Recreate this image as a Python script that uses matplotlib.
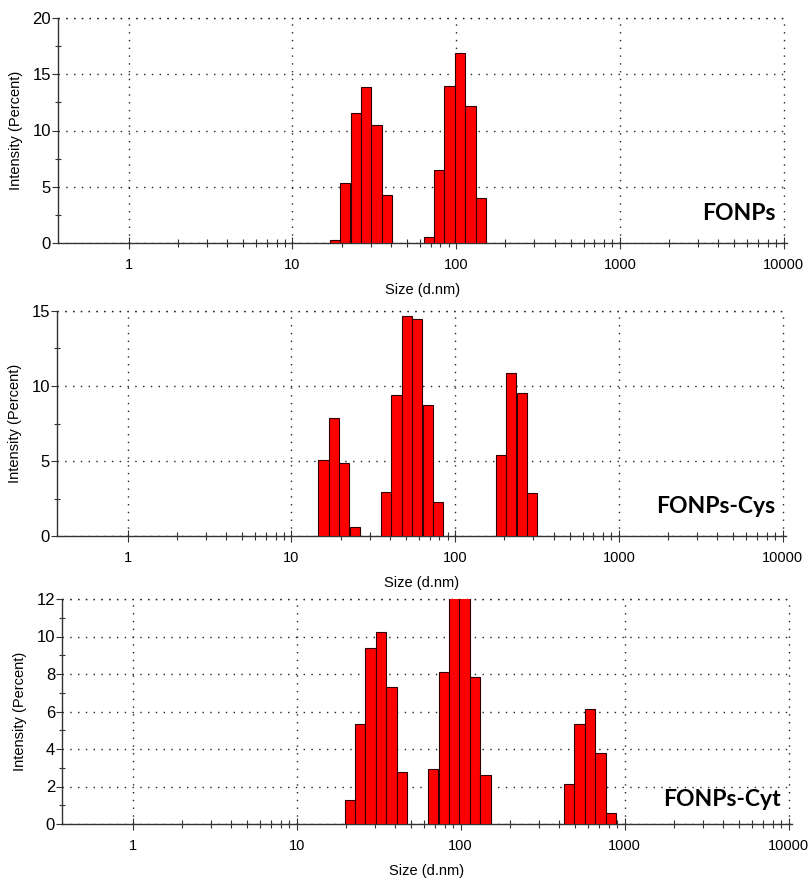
import numpy as np
import matplotlib
matplotlib.use('Agg')
import matplotlib.pyplot as plt
import matplotlib.ticker as mtick

plt.rcParams.update({'font.family': ['Liberation Sans', 'DejaVu Sans'], 'font.size': 10})

# Malvern size classes (d.nm) holding intensity
fonps_size = [18.17, 21.04, 24.36, 28.21, 32.67, 37.84,
              68.06, 78.82, 91.28, 105.7, 122.4, 141.8]
fonps_int = [0.3, 5.3, 11.6, 13.9, 10.5, 4.3,
             0.5, 6.5, 14.0, 16.9, 12.2, 4.0]

cys_size = [15.69, 18.17, 21.04, 24.36,
            37.84, 43.82, 50.75, 58.77, 68.06, 78.82,
            190.1, 220.2, 255.0, 295.3]
cys_int = [5.1, 7.9, 4.9, 0.6,
           2.95, 9.4, 14.65, 14.45, 8.75, 2.25,
           5.4, 10.85, 9.55, 2.9]

cyt_size = [21.04, 24.36, 28.21, 32.67, 37.84, 43.82,
            68.06, 78.82, 91.28, 105.7, 122.4, 141.8,
            458.7, 531.2, 615.1, 712.4, 825.0]
cyt_int = [1.3, 5.35, 9.4, 10.25, 7.3, 2.8,
           2.95, 8.1, 12.4, 12.4, 7.85, 2.6,
           2.15, 5.35, 6.15, 3.8, 0.6]

panel_names = ['FONPs', 'FONPs-Cys', 'FONPs-Cyt']
y_max = [20, 15, 12]
y_major = [5, 5, 2]
y_minor = [2.5, 2.5, 1]
x_ticks = [1, 10, 100, 1000, 10000]

# size classes are log spaced: 70 classes from 0.4 to 10000 nm
bin_ratio = 10 ** (np.log10(10000 / 0.4) / 70)
minor_x = [m * d for d in [1, 10, 100, 1000] for m in range(2, 10)]

fig = plt.figure(figsize=(8.1, 8.82), dpi=100)
W, H = 810.0, 882.0
# pixel boxes (left, right, top, bottom) of each panel
boxes = [(58, 787, 18, 243), (57, 786, 311, 536), (62, 792, 599, 824)]
label_y = [0.133, 0.129, 0.107]
data = [(fonps_size, fonps_int), (cys_size, cys_int), (cyt_size, cyt_int)]
grid_ls = (0, (1, 4.6))

for i in range(3):
    l, r, t, b = boxes[i]
    ax = fig.add_axes([l / W, 1 - b / H, (r - l) / W, (b - t) / H])
    size = np.array(data[i][0])
    inten = np.array(data[i][1])
    left = size / np.sqrt(bin_ratio)
    width = size * np.sqrt(bin_ratio) - left
    ax.bar(left, inten, width=width, align='edge', color='#ff0000',
           edgecolor='#300000', linewidth=0.8, zorder=3)
    ax.set_xscale('log')
    ax.set_xlim(0.37, 10500)
    ax.set_ylim(0, y_max[i])

    ax.xaxis.set_major_locator(mtick.FixedLocator(x_ticks))
    ax.xaxis.set_major_formatter(mtick.FixedFormatter([str(v) for v in x_ticks]))
    ax.xaxis.set_minor_locator(mtick.FixedLocator(minor_x))
    ax.xaxis.set_minor_formatter(mtick.NullFormatter())
    ax.yaxis.set_major_locator(mtick.MultipleLocator(y_major[i]))
    ax.yaxis.set_minor_locator(mtick.MultipleLocator(y_minor[i]))

    for s in ['top', 'right']:
        ax.spines[s].set_visible(False)
    for s in ['left', 'bottom']:
        ax.spines[s].set_color('#333333')
        ax.spines[s].set_linewidth(1.0)

    ax.tick_params(axis='x', which='major', direction='inout', length=8, width=0.8,
                   color='#333333', labelsize=10.5, pad=7)
    ax.tick_params(axis='x', which='minor', direction='inout', length=6, width=0.8,
                   color='#333333')
    ax.tick_params(axis='y', which='major', direction='out', length=4, width=0.8,
                   color='#333333', labelsize=12, pad=1)
    ax.tick_params(axis='y', which='minor', direction='inout', length=5, width=0.8,
                   color='#333333')

    ax.grid(True, which='major', axis='both', color='#222222', linestyle=grid_ls,
            linewidth=1.0, zorder=1)
    ax.set_axisbelow(True)
    # dotted line at the very top of the panel
    ax.axhline(y_max[i], color='#222222', linestyle=grid_ls, linewidth=1.0, clip_on=False)

    ax.set_xlabel('Size (d.nm)', fontsize=10.5, labelpad=8)
    ax.set_ylabel('Intensity (Percent)', fontsize=10.5, labelpad=7)

    ax.text(0.985, label_y[i], panel_names[i], transform=ax.transAxes, ha='right', va='center',
            fontsize=16.5, fontweight='bold', family=['Lato', 'DejaVu Sans'])

fig.savefig('out.png', dpi=100)
